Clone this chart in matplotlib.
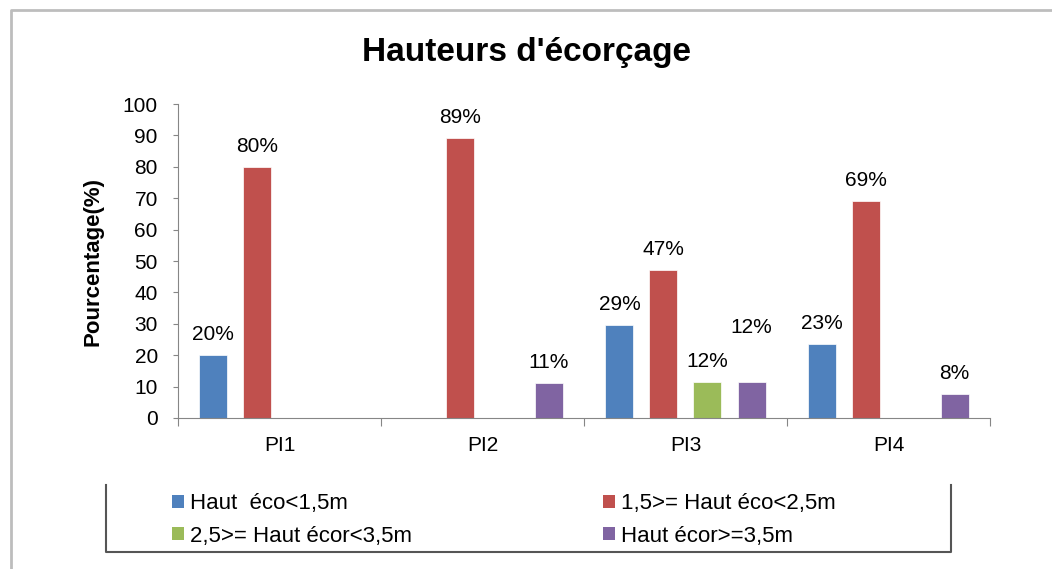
import matplotlib.pyplot as plt
import numpy as np
from matplotlib.patches import Patch
from matplotlib.lines import Line2D

plt.rcParams['font.family'] = ['Liberation Sans', 'DejaVu Sans']

categories = ['PI1', 'PI2', 'PI3', 'PI4']
series_names = ['Haut  éco<1,5m', '1,5>= Haut éco<2,5m',
                '2,5>= Haut écor<3,5m', 'Haut écor>=3,5m']
colors = ['#4f81bd', '#c0504d', '#9bbb59', '#8064a2']

haut_lt_15 = [20, 0, 29.6, 23.5]
haut_15_25 = [80, 89.2, 47.1, 69.1]
haut_25_35 = [0, 0, 11.5, 0]
haut_ge_35 = [0, 11.1, 11.5, 7.6]

labels_lt_15 = ['20%', '', '29%', '23%']
labels_15_25 = ['80%', '89%', '47%', '69%']
labels_25_35 = ['', '', '12%', '']
labels_ge_35 = ['', '11%', '12%', '8%']

series = [haut_lt_15, haut_15_25, haut_25_35, haut_ge_35]
labels = [labels_lt_15, labels_15_25, labels_25_35, labels_ge_35]

fig = plt.figure(figsize=(10.52, 5.69), dpi=100)
ax = fig.add_axes([0.1692, 0.2654, 0.7718, 0.5518])

x = np.arange(len(categories))
step = 0.217
width = 0.138
for i, (vals, labs) in enumerate(zip(series, labels)):
    pos = x + (i - 1.5) * step
    ax.bar(pos, vals, width=width, color=colors[i], edgecolor='white', linewidth=0.5)
    for j, (px, v, lab) in enumerate(zip(pos, vals, labs)):
        if not lab:
            continue
        dy = 8
        if i == 3 and j == 2:
            dy = 32  # label moved up in the original
        ax.annotate(lab, (px, v), xytext=(0, dy), textcoords='offset points',
                    ha='center', va='bottom', fontsize=15)

ax.set_xlim(-0.5, 3.5)
ax.set_ylim(0, 100)
ax.set_yticks(range(0, 101, 10))
ax.tick_params(axis='y', labelsize=15, length=3.5, color='#868686', pad=11)
ax.set_xticks(np.arange(-0.5, 4, 1))
ax.set_xticklabels([])
ax.set_xticks(x, minor=True)
ax.set_xticklabels(categories, minor=True)
ax.tick_params(axis='x', which='major', length=6, color='#868686')
ax.tick_params(axis='x', which='minor', length=0, labelsize=15, pad=13)
for s in ['top', 'right']:
    ax.spines[s].set_visible(False)
for s in ['left', 'bottom']:
    ax.spines[s].set_color('#868686')
ax.set_ylabel('Pourcentage(%)', fontsize=16, fontweight='bold', labelpad=14)

fig.text(0.5, 1 - 52 / 569, "Hauteurs d'écorçage", ha='center', va='center',
         fontsize=24, fontweight='bold')

# legend: column-wise fill -> blue, green | red, purple
order = [0, 2, 1, 3]
handles = [Patch(facecolor=colors[k], edgecolor='none') for k in order]
fig.legend(handles, [series_names[k] for k in order], ncol=2,
           loc='center left', bbox_to_anchor=(172 / 1052, 1 - 520 / 569),
           frameon=False, borderpad=0, borderaxespad=0,
           fontsize=16, handlelength=0.55, handleheight=0.55, handletextpad=0.25,
           columnspacing=8.6, labelspacing=0.5)

# legend box (left, bottom, right edges)
lx0, lx1 = 106 / 1052, 951 / 1052
ly0, ly1 = 1 - 552 / 569, 1 - 485 / 569
box = dict(color='#555555', lw=1.5, transform=fig.transFigure)
fig.add_artist(Line2D([lx0, lx0, lx1, lx1], [ly1, ly0, ly0, ly1], **box))

# outer chart frame (top and left)
fx, fy = 11 / 1052, 1 - 10 / 569
fig.add_artist(Line2D([fx, fx, 1.0], [0.0, fy, fy], color='#bdbdbd', lw=2,
                      transform=fig.transFigure))

fig.savefig('out.png', dpi=100, facecolor='white')
